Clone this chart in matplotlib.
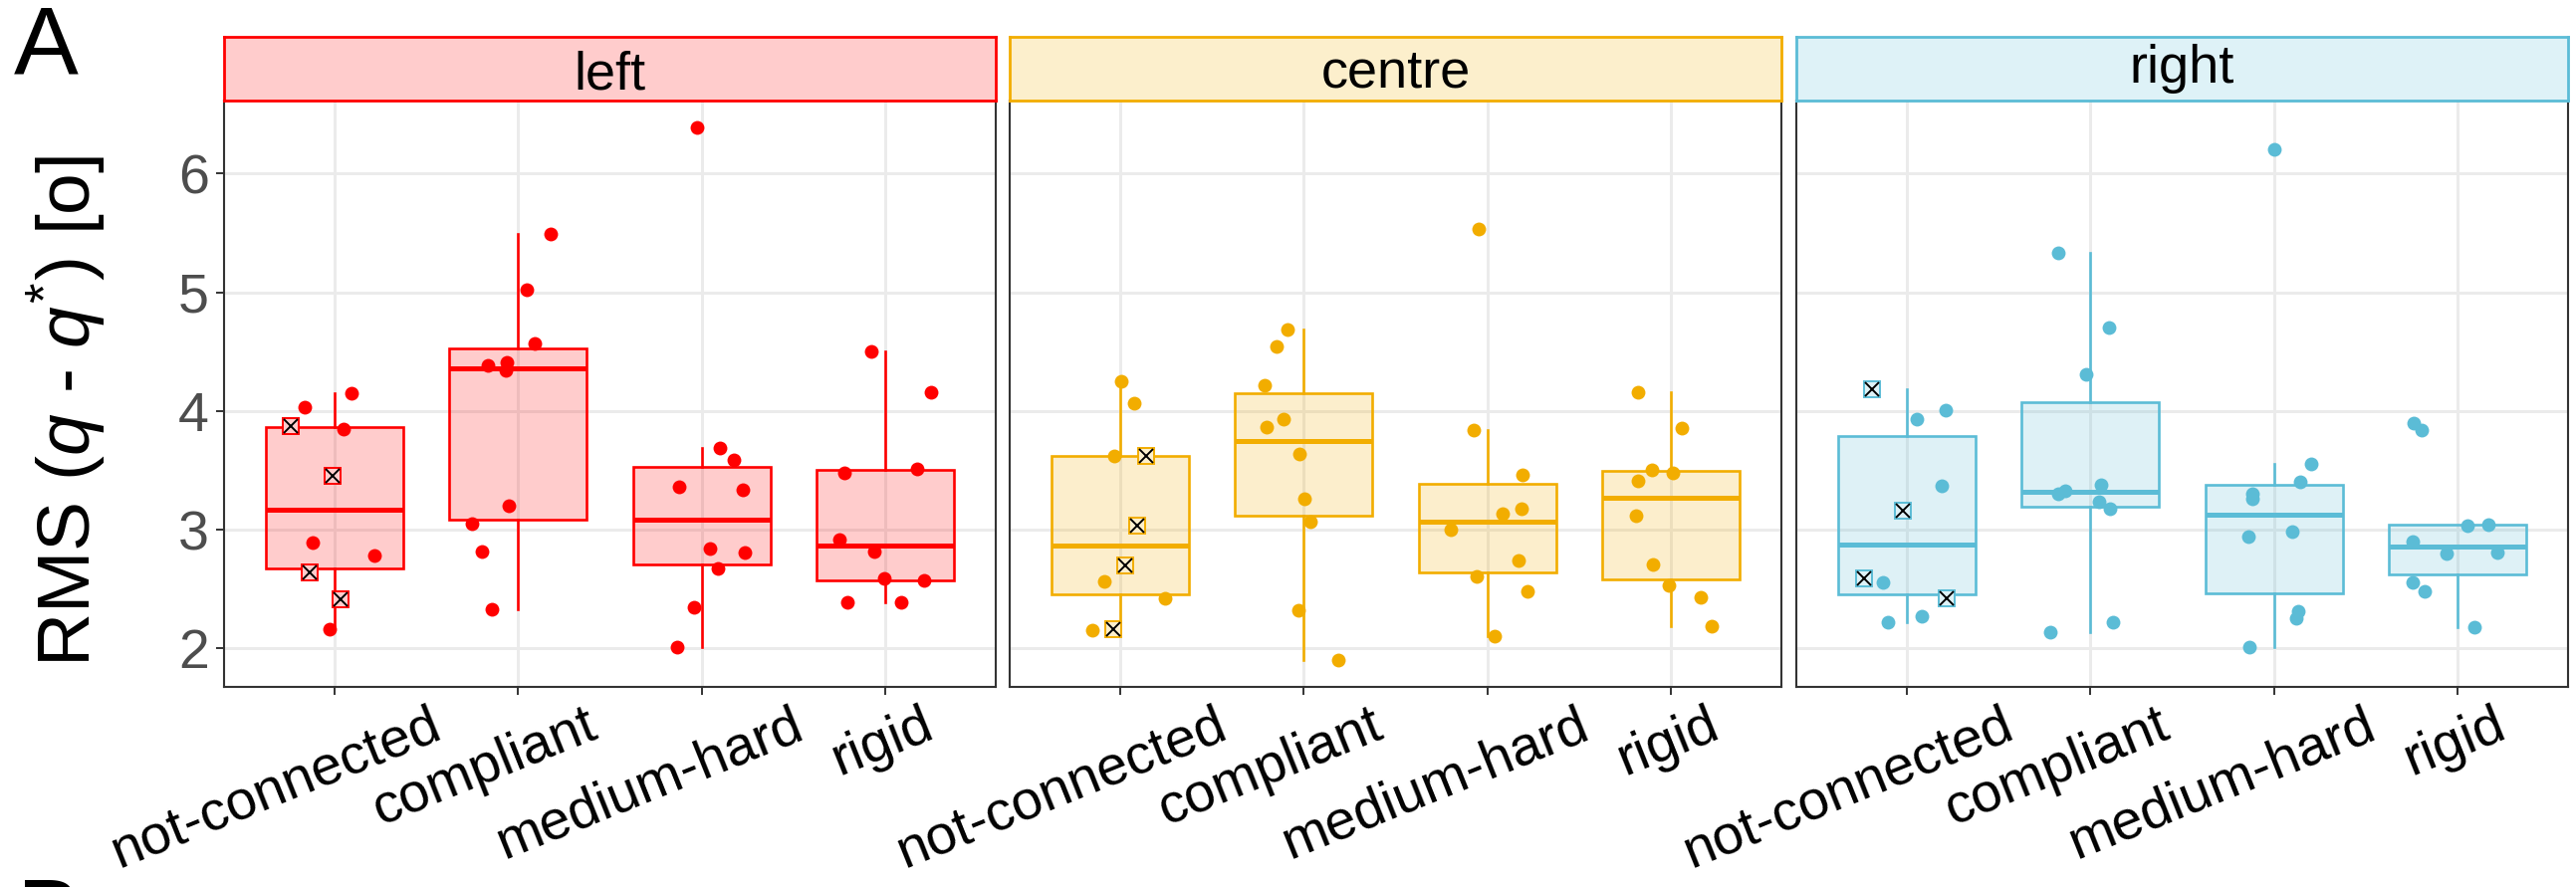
import matplotlib
matplotlib.use("Agg")
import matplotlib.pyplot as plt
import matplotlib.transforms as mtransforms
import matplotlib.colors as mcolors
import numpy as np

plt.rcParams['font.family'] = ['Liberation Sans', 'DejaVu Sans']
plt.rcParams['mathtext.fontset'] = 'custom'
plt.rcParams['mathtext.rm'] = 'Liberation Sans'
plt.rcParams['mathtext.it'] = 'Liberation Sans:italic'
plt.rcParams['mathtext.bf'] = 'Liberation Sans:bold'

# ---------------- data ----------------
sides = ["left", "centre", "right"]
conditions = ["not-connected", "compliant", "medium-hard", "rigid"]
side_colors = ["#FF0000", "#F2AD00", "#5BBCD6"]

# RMS values per condition (not-connected: 6 regular points + 4 marked points)
left_rms = [
    [4.03, 4.15, 3.85, 2.89, 2.78, 2.16, 3.87, 3.45, 2.64, 2.41],
    [5.49, 5.02, 4.57, 4.38, 4.41, 4.34, 3.20, 3.05, 2.82, 2.33],
    [6.39, 3.69, 3.585, 3.36, 3.335, 2.84, 2.81, 2.67, 2.35, 2.015],
    [4.50, 4.16, 3.48, 3.515, 2.92, 2.82, 2.59, 2.57, 2.39, 2.385],
]
centre_rms = [
    [4.25, 4.065, 3.62, 2.565, 2.42, 2.15, 3.62, 3.03, 2.70, 2.16],
    [4.685, 4.546, 4.22, 3.93, 3.86, 3.635, 3.26, 3.07, 2.32, 1.90],
    [5.53, 3.835, 3.46, 3.18, 3.135, 3.00, 2.74, 2.61, 2.48, 2.10],
    [4.16, 3.855, 3.50, 3.48, 3.415, 3.12, 2.71, 2.535, 2.43, 2.19],
]
right_rms = [
    [4.01, 3.93, 3.37, 2.56, 2.27, 2.22, 4.18, 3.16, 2.59, 2.42],
    [5.335, 4.70, 4.31, 3.38, 3.33, 3.30, 3.235, 3.18, 2.22, 2.14],
    [6.20, 3.55, 3.40, 3.30, 3.26, 2.985, 2.94, 2.31, 2.25, 2.015],
    [3.90, 3.84, 3.035, 3.04, 2.90, 2.80, 2.81, 2.56, 2.48, 2.18],
]

# horizontal jitter (category units)
left_jitter = [
    [-0.16, 0.094, 0.052, -0.118, 0.218, -0.028, -0.239, -0.01, -0.135, 0.035],
    [0.177, 0.049, 0.09, -0.166, -0.062, -0.069, -0.052, -0.25, -0.194, -0.142],
    [-0.024, 0.097, 0.173, -0.125, 0.225, 0.042, 0.236, 0.09, -0.042, -0.132],
    [-0.08, 0.246, -0.222, 0.173, -0.25, -0.062, -0.007, 0.211, -0.208, 0.087],
]
centre_jitter = [
    [0.008, 0.08, -0.033, -0.086, 0.246, -0.152, 0.144, 0.091, 0.028, -0.036],
    [-0.088, -0.147, -0.21, -0.11, -0.2, -0.022, 0.003, 0.036, -0.03, 0.19],
    [-0.047, -0.077, 0.19, 0.185, 0.08, -0.2, 0.17, -0.06, 0.218, 0.041],
    [-0.18, 0.058, -0.105, 0.008, -0.18, -0.19, -0.1, -0.011, 0.16, 0.22],
]
right_jitter = [
    [0.212, 0.056, 0.192, -0.131, 0.084, -0.1, -0.187, -0.02, -0.232, 0.218],
    [-0.176, 0.103, -0.022, 0.059, -0.137, -0.176, 0.047, 0.109, 0.123, -0.22],
    [0.0, 0.204, 0.14, -0.12, -0.12, 0.1, -0.137, 0.134, 0.12, -0.134],
    [-0.24, -0.198, 0.05, 0.167, -0.243, -0.061, 0.215, -0.245, -0.18, 0.092],
]

# marked subjects (drawn as crossed squares) in the not-connected condition
nc_marked = [False, False, False, False, False, False, True, True, True, True]

y_ticks = [2, 3, 4, 5, 6]
y_label = r"RMS ($q$ - $q^{*}$) [o]"

all_rms = [left_rms, centre_rms, right_rms]
all_jitter = [left_jitter, centre_jitter, right_jitter]

# ---------------- layout ----------------
W, H = 2587, 891
DPI = 100
fig = plt.figure(figsize=(W / DPI, H / DPI), dpi=DPI)


def fx(px):
    return px / W


def fy(py):
    return 1 - py / H


panel_left = [225, 1014, 1804]
panel_w = 775
panel_top, panel_bot = 101, 690
strip_top = 37
strip_baseline = [89, 87.5, 83.5]
label_baseline_drop = 50  # px below panel bottom for the right end of labels
label_angle = 22
label_size = 40

grey20 = "#333333"
xlabel_texts = []

for k, side in enumerate(sides):
    c = side_colors[k]
    rgb = mcolors.to_rgb(c)
    fill_alpha = (rgb[0], rgb[1], rgb[2], 0.2)
    fill_solid = tuple(0.2 * v + 0.8 for v in rgb)

    ax = fig.add_axes([fx(panel_left[k]), fy(panel_bot),
                       fx(panel_w), (panel_bot - panel_top) / H])
    ax.set_xlim(0.4, 4.6)
    ax.set_ylim(1.6755, 6.6145)
    ax.set_axisbelow(True)
    ax.grid(True, color="#EBEBEB", lw=2.1)

    data = all_rms[k]
    jit = all_jitter[k]
    ax.boxplot(data, positions=[1, 2, 3, 4], widths=0.75, patch_artist=True,
               showfliers=False, showcaps=False, whis=1.5,
               boxprops=dict(facecolor=fill_alpha, edgecolor=c, linewidth=1.9),
               medianprops=dict(color=c, linewidth=3.6, solid_capstyle="butt"),
               whiskerprops=dict(color=c, linewidth=1.9),
               zorder=2)

    for i, cond in enumerate(conditions):
        vals = np.array(data[i])
        xs = (i + 1) + np.array(jit[i])
        if cond == "not-connected":
            m = np.array(nc_marked)
        else:
            m = np.zeros(len(vals), dtype=bool)
        ax.scatter(xs[~m], vals[~m], s=100, color=c, linewidths=0, zorder=3)
        if m.any():
            ax.plot(xs[m], vals[m], ls="none", marker="s", ms=11,
                    mfc=fill_solid, mec=c, mew=1.4, zorder=4)
            ax.plot(xs[m], vals[m], ls="none", marker="x", ms=10,
                    color="black", mew=1.4, zorder=5)

    ax.set_xticks([1, 2, 3, 4])
    ax.set_xticklabels([])
    ax.set_yticks(y_ticks)
    ax.tick_params(axis="both", direction="out", length=5.8, width=1.4,
                   color=grey20)
    if k == 0:
        ax.set_yticklabels([str(t) for t in y_ticks])
        ax.tick_params(axis="y", labelsize=40, labelcolor="#4D4D4D", pad=5)
    else:
        ax.tick_params(axis="y", left=False, labelleft=False)
    for sp in ax.spines.values():
        sp.set_color(grey20)
        sp.set_linewidth(1.5)

    trans = mtransforms.blended_transform_factory(ax.transData, ax.transAxes)
    for i, cond in enumerate(conditions):
        t = ax.text(i + 1, 0, cond, transform=trans, rotation=0,
                    ha="right", va="baseline", fontsize=label_size,
                    color="black", clip_on=False)
        xlabel_texts.append((t, trans))

    # strip
    sax = fig.add_axes([fx(panel_left[k]), fy(panel_top), fx(panel_w),
                        (panel_top - strip_top) / H])
    sax.set_facecolor(fill_solid)
    sax.set_xticks([])
    sax.set_yticks([])
    for sp in sax.spines.values():
        sp.set_color(c)
        sp.set_linewidth(2.0)
    sax.text(0.5, (panel_top - strip_baseline[k]) / (panel_top - strip_top),
             side, transform=sax.transAxes, ha="center", va="baseline",
             fontsize=39, color="black")

fig.text(fx(67), fy(413), y_label, rotation=90, ha="center", va="center",
         fontsize=54, color="black")
fig.text(fx(14), fy(74), "A", fontsize=70, ha="left", va="baseline")
fig.text(fx(17), fy(950), "B", fontsize=70, ha="left", va="baseline")

# rotated tick labels: right end of baseline placed right of the tick,
# proportionally to the label length (mimics ggplot's rotated justification)
fig.canvas.draw()
for t, trans in xlabel_texts:
    L = t.get_window_extent().width
    dx = 0.242 * L + 25.0
    t.set_rotation(label_angle)
    t.set_rotation_mode("anchor")
    t.set_transform(trans + mtransforms.ScaledTranslation(
        dx / DPI, -label_baseline_drop / DPI, fig.dpi_scale_trans))

fig.savefig("out.png", dpi=DPI)
